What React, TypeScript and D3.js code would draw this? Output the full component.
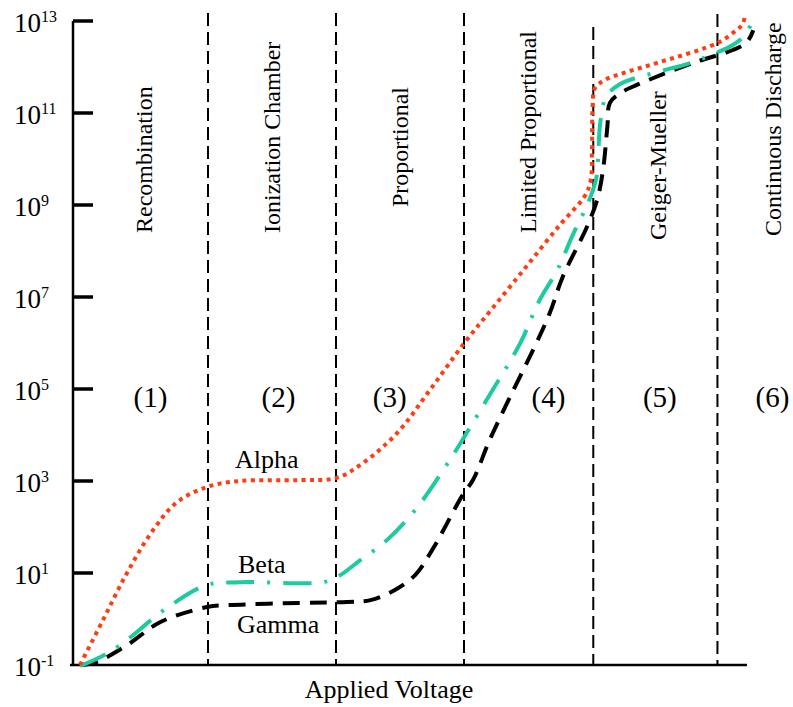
import { useEffect, useRef } from "react";
import * as d3 from "d3";

// applied voltage in "region widths" (0 = start of recombination region)
const alphaV = [0, 0.18, 0.367, 0.57, 0.758, 0.992, 1.25, 1.72, 2.008, 2.21, 2.477, 2.734, 3.008, 3.227, 3.492, 3.75, 3.945, 3.99, 4.0, 4.004, 4.023, 4.1, 4.27, 4.51, 4.98, 5.1, 5.17, 5.195];
const alphaExp = [-1, -0.02, 1.0, 1.93, 2.54, 2.87, 3.0, 3.02, 3.07, 3.39, 4.04, 4.98, 6.02, 6.77, 7.68, 8.57, 9.2, 9.54, 10.2, 11.07, 11.54, 11.72, 11.89, 12.09, 12.52, 12.74, 12.91, 13.09];

const betaV = [0, 0.156, 0.3125, 0.68, 0.992, 1.25, 1.9, 2.008, 2.19, 2.4, 2.63, 2.89, 3.02, 3.2, 3.44, 3.59, 3.73, 3.85, 3.97, 4.035, 4.05, 4.065, 4.11, 4.22, 4.51, 4.77, 5.1, 5.18, 5.25];
const betaExp = [-1.02, -0.83, -0.57, 0.24, 0.74, 0.8, 0.8, 0.91, 1.28, 1.72, 2.41, 3.46, 4.04, 4.87, 6.0, 6.93, 7.59, 8.35, 9.05, 9.6, 10.2, 10.8, 11.35, 11.63, 11.89, 12.09, 12.48, 12.65, 12.96];

const gammaV = [0.01, 0.133, 0.367, 0.625, 0.992, 1.15, 1.72, 2.086, 2.27, 2.46, 2.62, 2.76, 2.99, 3.07, 3.2, 3.36, 3.55, 3.67, 3.77, 3.96, 4.04, 4.086, 4.12, 4.14, 4.22, 4.35, 4.79, 5.1, 5.21, 5.26];
const gammaExp = [-1.0, -0.93, -0.57, -0.07, 0.26, 0.3, 0.35, 0.37, 0.41, 0.63, 0.96, 1.54, 2.7, 3.02, 3.89, 4.83, 5.91, 6.65, 7.43, 8.52, 9.11, 9.76, 10.7, 11.22, 11.43, 11.61, 12.09, 12.37, 12.54, 12.8];

const boundaries = [1, 2, 3, 4.01, 4.98];
const boundaryTop = [13, 13, 13, 27, 14, 13];

const regionNames = ["Recombination", "Ionization Chamber", "Proportional", "Limited Proportional", "Geiger-Mueller", "Continuous Discharge"];
const regionNameV = [0.565, 1.565, 2.56, 3.56, 4.575, 5.475];
const regionNameBottom = [233, 233, 207, 233, 240, 236];

const regionNumbers = ["(1)", "(2)", "(3)", "(4)", "(5)", "(6)"];
const regionNumberV = [0.55, 1.55, 2.42, 3.66, 4.53, 5.41];

const tickExps = [-1, 1, 3, 5, 7, 9, 11, 13];

function App() {
  const svgRef = useRef(null);
  const width = 793;
  const height = 707;

  useEffect(() => {
    const svg = d3.select(svgRef.current);
    svg.selectAll("*").remove();

    const x = d3.scaleLinear().domain([0, 6]).range([80, 848]);
    const y = d3.scaleLog().domain([1e-1, 1e13]).range([665, 21]);
    const font = "'Liberation Serif', 'Times New Roman', serif";

    // region boundaries
    svg.append("g")
      .selectAll("line")
      .data(boundaries)
      .join("line")
      .attr("x1", d => x(d)).attr("x2", d => x(d))
      .attr("y1", (d, i) => boundaryTop[i]).attr("y2", y(1e-1))
      .attr("stroke", "black").attr("stroke-width", 2)
      .attr("stroke-dasharray", "13,6");

    // axes
    svg.append("line")
      .attr("x1", 73).attr("x2", 73).attr("y1", y(1e13)).attr("y2", y(1e-1))
      .attr("stroke", "black").attr("stroke-width", 2.5);
    svg.append("line")
      .attr("x1", 70).attr("x2", 747).attr("y1", y(1e-1)).attr("y2", y(1e-1))
      .attr("stroke", "black").attr("stroke-width", 2.5);

    svg.append("g")
      .selectAll("line")
      .data(tickExps.filter(e => e > -1))
      .join("line")
      .attr("x1", 73).attr("x2", 93)
      .attr("y1", d => y(10 ** d)).attr("y2", d => y(10 ** d))
      .attr("stroke", "black").attr("stroke-width", 3.5);

    const tl = svg.append("g")
      .selectAll("text")
      .data(tickExps)
      .join("text")
      .attr("x", 14)
      .attr("y", d => y(10 ** d) + 11)
      .attr("font-family", font)
      .attr("font-size", 27)
      .attr("fill", "black");
    tl.append("tspan").text("10");
    tl.append("tspan")
      .attr("font-size", 16)
      .attr("dy", -10)
      .text(d => String(d));

    // region names (rotated)
    svg.append("g")
      .selectAll("text")
      .data(regionNames)
      .join("text")
      .attr("transform", (d, i) => `translate(${x(regionNameV[i])},${regionNameBottom[i]}) rotate(-90)`)
      .attr("font-family", font)
      .attr("font-size", 24)
      .attr("fill", "black")
      .text(d => d);

    svg.append("g")
      .selectAll("text")
      .data(regionNumbers)
      .join("text")
      .attr("x", (d, i) => x(regionNumberV[i]))
      .attr("y", 407)
      .attr("text-anchor", "middle")
      .attr("font-family", font)
      .attr("font-size", 29)
      .attr("fill", "black")
      .text(d => d);

    const line = d3.line<[number, number]>()
      .x(d => x(d[0]))
      .y(d => y(10 ** d[1]))
      .curve(d3.curveCatmullRom.alpha(0.5));

    const series = [
      { v: gammaV, e: gammaExp, color: "black", dash: "17,10" },
      { v: betaV, e: betaExp, color: "#1ecb9e", dash: "28,13,3,13" },
      { v: alphaV, e: alphaExp, color: "#ff3d12", dash: "4,4.4" },
    ];

    svg.append("g")
      .selectAll("path")
      .data(series)
      .join("path")
      .attr("d", s => line(s.v.map((v, i) => [v, s.e[i]] as [number, number])))
      .attr("fill", "none")
      .attr("stroke", s => s.color)
      .attr("stroke-width", 4)
      .attr("stroke-dasharray", s => s.dash);

    const curveLabels = [
      { t: "Alpha", x: 235, y: 468 },
      { t: "Beta", x: 238, y: 573 },
      { t: "Gamma", x: 237, y: 633 },
    ];
    svg.append("g")
      .selectAll("text")
      .data(curveLabels)
      .join("text")
      .attr("x", d => d.x).attr("y", d => d.y)
      .attr("font-family", font)
      .attr("font-size", 26)
      .attr("fill", "black")
      .text(d => d.t);

    svg.append("text")
      .attr("x", 389).attr("y", 698)
      .attr("text-anchor", "middle")
      .attr("font-family", font)
      .attr("font-size", 26)
      .attr("fill", "black")
      .text("Applied Voltage");
  }, []);

  return (
    <svg
      ref={svgRef}
      width={width}
      height={height}
      style={{ position: "absolute", left: 0, top: 0, background: "white" }}
    />
  );
}

export default App;
